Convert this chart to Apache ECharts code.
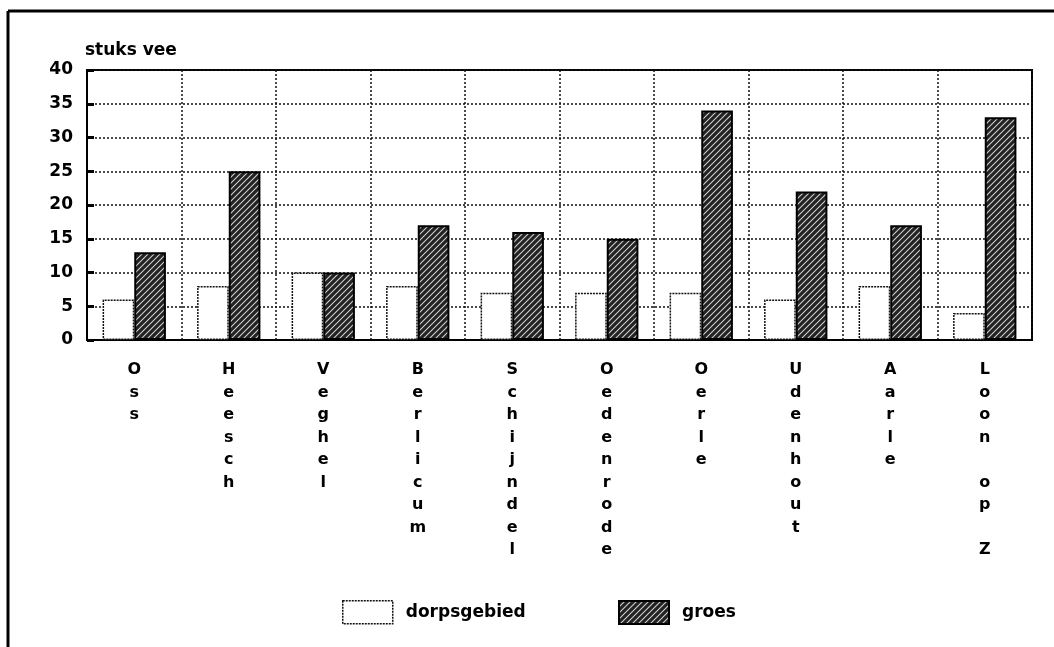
<!DOCTYPE html>
<html>
<head>
<meta charset="utf-8">
<script src="https://cdn.jsdelivr.net/npm/echarts@6/dist/echarts.min.js"></script>
<style>
html,body{margin:0;padding:0;background:#fff;}
#chart{width:1054px;height:647px;}
</style>
</head>
<body>
<div id="chart"></div>
<script>
const categories = ["Oss","Heesch","Veghel","Berlicum","Schijndel","Oedenrode","Oerle","Udenhout","Aarle","Loon op Z"];
const dorpsgebied = [6, 8, 10, 8, 7, 7, 7, 6, 8, 4];
const groes = [13, 25, 10, 17, 16, 15, 34, 22, 17, 33];
const yTicks = [0, 5, 10, 15, 20, 25, 30, 35, 40];

// hatch pattern
const pc = document.createElement('canvas');
pc.width = 6; pc.height = 6;
const pctx = pc.getContext('2d');
pctx.fillStyle = '#222';
pctx.fillRect(0, 0, 6, 6);
pctx.strokeStyle = '#cfcfcf';
pctx.lineWidth = 1.1;
pctx.beginPath();
pctx.moveTo(0, 6); pctx.lineTo(6, 0);
pctx.moveTo(-3, 3); pctx.lineTo(3, -3);
pctx.moveTo(3, 9); pctx.lineTo(9, 3);
pctx.stroke();

const font = '"DejaVu Sans", sans-serif';
const legendText = { fontFamily: font, fontSize: 17, fontWeight: 'bold', color: '#000', padding: [0, 0, 0, 8] };
const chart = echarts.init(document.getElementById('chart'));
chart.setOption({
  animation: false,
  backgroundColor: '#fff',
  graphic: [
    { type: 'line', shape: { x1: 8, y1: 11, x2: 1054, y2: 11 }, style: { stroke: '#000', lineWidth: 3 } },
    { type: 'line', shape: { x1: 8, y1: 11, x2: 8, y2: 647 }, style: { stroke: '#000', lineWidth: 3 } }
  ],
  grid: { left: 87, right: 22, top: 70, bottom: 307, show: true, borderColor: '#000', borderWidth: 2, backgroundColor: 'transparent' },
  legend: [
    {
      left: 342, top: 600, padding: 0,
      itemWidth: 50, itemHeight: 23,
      icon: 'rect',
      textStyle: legendText,
      data: [{ name: 'dorpsgebied', itemStyle: { borderType: [2, 1], borderWidth: 1.5, borderColor: '#111' } }]
    },
    {
      left: 618, top: 600, padding: 0,
      itemWidth: 50, itemHeight: 23,
      icon: 'rect',
      textStyle: legendText,
      data: ['groes']
    }
  ],
  xAxis: {
    type: 'category',
    data: categories,
    axisLine: { show: true, lineStyle: { color: '#000', width: 2 } },
    axisTick: { show: false },
    splitLine: { show: true, lineStyle: { color: '#111', type: [2, 2], width: 1.5 } },
    axisLabel: {
      interval: 0,
      margin: 19,
      fontFamily: font, fontSize: 16, fontWeight: 'bold', color: '#000',
      lineHeight: 22.5,
      verticalAlign: 'top',
      formatter: v => v.split('').map(c => c === ' ' ? ' ' : c).join('\n')
    }
  },
  yAxis: {
    type: 'value',
    min: 0, max: 40, interval: 5,
    name: 'stuks vee',
    nameLocation: 'end',
    nameGap: 11,
    nameTextStyle: { fontFamily: font, fontSize: 17, fontWeight: 'bold', color: '#000', align: 'left', padding: [0, 0, 0, -2] },
    axisLine: { show: true, lineStyle: { color: '#000', width: 2 } },
    axisTick: { show: true, inside: true, length: 7, lineStyle: { color: '#000', width: 3 } },
    splitLine: { show: true, lineStyle: { color: '#111', type: [2, 2], width: 1.5 } },
    axisLabel: {
      margin: 14,
      fontFamily: font, fontSize: 17, fontWeight: 'bold', color: '#000',
      formatter: v => yTicks.includes(v) ? String(v) : ''
    }
  },
  series: [
    {
      name: 'dorpsgebied', type: 'bar', data: dorpsgebied,
      barGap: '0%', barCategoryGap: '33%',
      itemStyle: { color: '#fff', borderColor: '#111', borderWidth: 1.5, borderType: [2, 1] }
    },
    {
      name: 'groes', type: 'bar', data: groes,
      barGap: '0%', barCategoryGap: '33%',
      itemStyle: { color: { image: pc, repeat: 'repeat' }, borderColor: '#000', borderWidth: 2 }
    }
  ]
});
</script>
</body>
</html>
